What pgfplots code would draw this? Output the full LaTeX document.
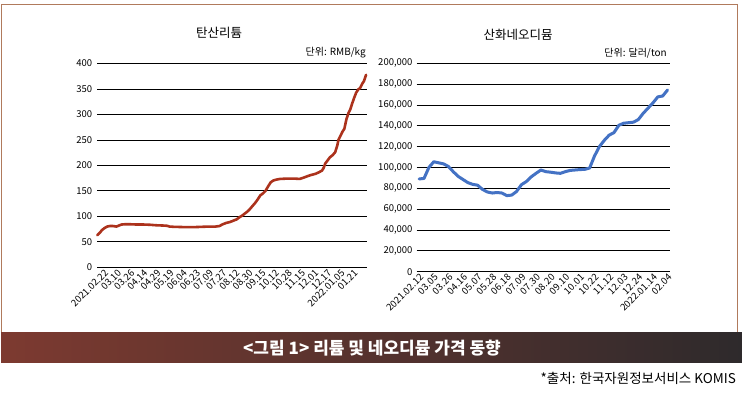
\documentclass[border=0pt]{standalone}
\usepackage{pgfplots}
\pgfplotsset{compat=1.18}
\usepackage{fontspec}
\setmainfont{Noto Sans CJK KR}
\definecolor{lineRed}{RGB}{172,50,28}
\definecolor{lineBlue}{RGB}{68,114,196}
\definecolor{frameBrown}{RGB}{176,122,92}
\definecolor{bannerL}{RGB}{125,58,48}
\definecolor{bannerR}{RGB}{46,42,44}
\pgfplotsset{
  base/.style={
    scale only axis,
    axis line style={draw=none},
    major tick length=0pt,
    ymajorgrids,
    grid style={black, line width=0.9pt},
    yticklabel style={font=\fontsize{9.5}{10}\selectfont, inner sep=1pt, xshift=-4pt},
    xticklabel style={rotate=45, anchor=north east, font=\fontsize{9.5}{10}\selectfont, inner sep=1pt},
    /pgf/number format/assume math mode=true,
    /pgf/number format/fixed,
    /pgf/number format/precision=0,
    scaled y ticks=false,
    clip=false,
  }
}
\begin{document}
\begin{tikzpicture}[x=1pt,y=1pt]
\useasboundingbox (0,0) rectangle (742,398);
\fill[white] (0,0) rectangle (742,398);
\draw[frameBrown, line width=1pt] (1.5,65) rectangle (737.5,393);
\shade[left color=bannerL, right color=bannerR] (1,35) rectangle (742,65);
\node[white, font=\bfseries\fontsize{17}{19}\selectfont] at (372,49.5) {<그림 1> 리튬 및 네오디뮴 가격 동향};
\node[anchor=east, font=\fontsize{13.5}{15}\selectfont, inner sep=0pt] at (736,20) {*출처: 한국자원정보서비스 KOMIS};

% left chart
\node[font=\fontsize{12.5}{14}\selectfont] at (219,365) {탄산리튬};
\node[anchor=east, inner sep=0pt, font=\fontsize{10}{11}\selectfont] at (366,345) {단위: RMB/kg};
\begin{axis}[base, at={(97.3pt,130.7pt)}, anchor=south west,
  width=269.4pt, height=203.7pt,
  xmin=-0.5, xmax=20, ymin=0, ymax=400,
  ytick={0,50,...,400},
  xtick={0,...,19},
  xticklabels={2021.02.22,03.10,03.26,04.14,04.29,05.19,06.04,06.23,07.09,07.27,08.12,08.30,09.15,10.12,10.28,11.15,12.01,12.17,2022.01.05,01.21},
]
\addplot[lineRed, line width=2.6pt, line join=round, line cap=round] coordinates {
(-0.5,63) (-0.3,68) (-0.15,73) (0.05,77) (0.25,80) (0.45,81) (0.7,81) (0.95,80) (1.15,82) (1.35,84) (1.6,84.5) (2.0,84.5) (2.5,84) (3.0,84) (3.5,83.5) (4.0,82.5) (4.5,82) (4.8,81.5) (5.0,80) (5.3,79.5) (6,79) (7,79) (7.5,79.5) (8,80) (8.5,80) (8.8,81) (9.0,84) (9.3,87) (9.6,89) (9.9,92) (10.1,94) (10.3,98) (10.5,101) (10.7,105) (10.9,109) (11.1,114) (11.3,120) (11.5,126) (11.7,133) (11.9,141) (12.1,145) (12.3,150) (12.5,159) (12.7,167) (12.9,170.5) (13.1,172) (13.4,173.5) (13.8,174) (14.2,174) (14.6,174) (14.9,173.5) (15.2,176) (15.5,179) (15.8,181.5) (16.1,183.5) (16.4,187) (16.6,190) (16.72,195) (16.85,204) (17.0,209) (17.2,216) (17.4,220) (17.6,226) (17.75,238) (17.85,250) (18.0,258) (18.15,266) (18.3,272) (18.45,290) (18.6,302) (18.75,310) (18.9,322) (19.05,333) (19.2,343) (19.35,349) (19.5,352) (19.65,360) (19.8,366) (19.95,378)
};
\end{axis}

% right chart
\node[font=\fontsize{12.5}{14}\selectfont] at (518,363) {산화네오디뮴};
\node[anchor=east, inner sep=0pt, font=\fontsize{10}{11}\selectfont] at (667,345) {단위: 달러/ton};
\begin{axis}[base, at={(416.7pt,126.3pt)}, anchor=south west,
  width=253.3pt, height=208.4pt,
  xmin=-0.5, xmax=51.5, ymin=0, ymax=200000,
  ytick={0,20000,...,200000},
  /pgf/number format/1000 sep={,},
  yticklabel style={xshift=1pt},
  xtick={0,3,...,51},
  xticklabels={2021.02.12,03.05,03.26,04.16,05.07,05.28,06.18,07.09,07.30,08.20,09.10,10.01,10.22,11.12,12.03,12.24,2022.01.14,02.04},
]
\addplot[lineBlue, line width=3pt, line join=round, line cap=round] coordinates {
(0,89000) (1,89500) (2,100000) (3,105500) (4,104500) (5,103500) (6,101000) (7,96000) (8,91500) (9,88500) (10,85500) (11,83800) (12,83000) (13,79000) (14,76500) (15,75500) (16,76000) (17,75500) (18,73000) (19,73500) (20,77000) (21,83500) (22,86500) (23,91000) (24,94400) (25,97600) (26,96000) (27,95500) (28,94800) (29,94400) (30,96000) (31,97200) (32,97600) (33,98000) (34,98200) (35,99500) (36,111000) (37,120000) (38,126000) (39,131000) (40,133500) (41,140500) (42,142500) (43,143000) (44,143500) (45,146000) (46,152000) (47,157000) (48,162000) (49,167800) (50,168600) (51,174400)
};
\end{axis}
\end{tikzpicture}
\end{document}
